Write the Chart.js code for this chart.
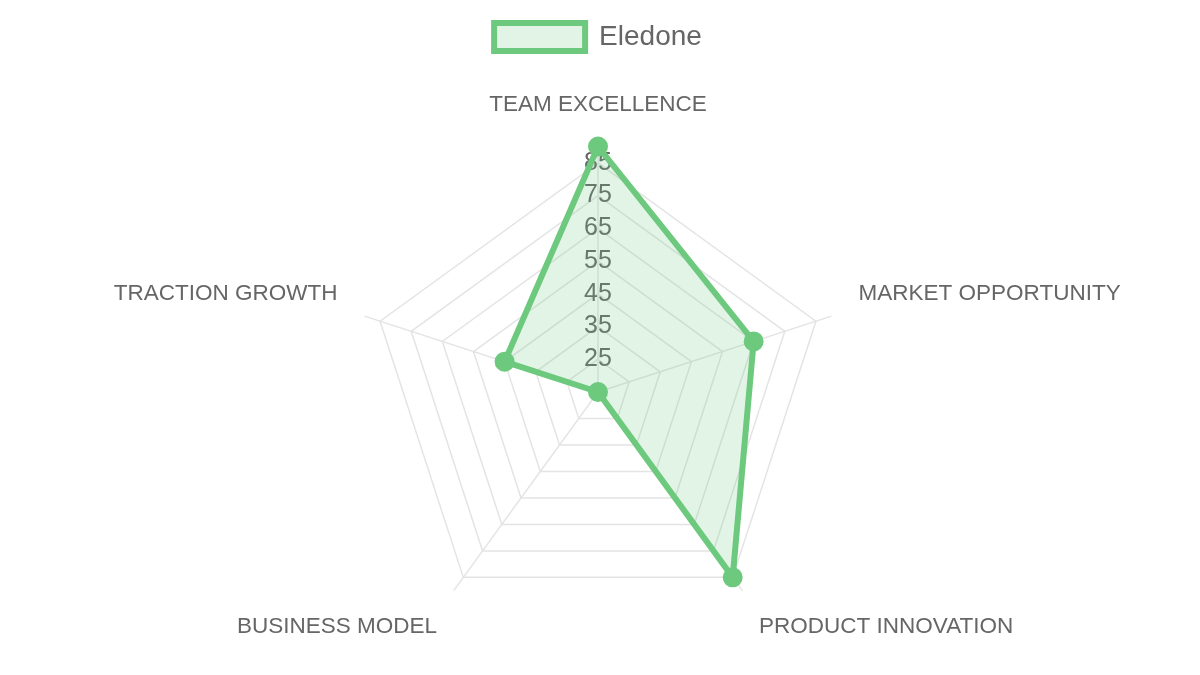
<!DOCTYPE html>
<html>
<head>
<meta charset="utf-8">
<script src="https://cdn.jsdelivr.net/npm/chart.js@4/dist/chart.umd.min.js"></script>
<style>
  html, body { margin: 0; padding: 0; background: #fff; }
  #wrap { width: 1200px; height: 675px; }
</style>
</head>
<body>
<div id="wrap"><canvas id="chart"></canvas></div>
<script>
const categories = ['TEAM EXCELLENCE', 'MARKET OPPORTUNITY', 'PRODUCT INNOVATION', 'BUSINESS MODEL', 'TRACTION GROWTH']
const seriesName = 'Eledone'
const seriesValues = [90, 65, 85, 15, 45]
const scaleMin = 15
const scaleMax = 90
const tickValues = [25, 35, 45, 55, 65, 75, 85]

const green = 'rgb(108, 201, 125)'
const greenFill = 'rgba(108, 201, 125, 0.2)'
const textColor = '#666'
const gridColor = '#e4e4e4'

// a bit more room under the legend
const legendMargin = {
    id: 'legendMargin',
    afterInit(chart) {
        const fit = chart.legend.fit
        chart.legend.fit = function () {
            fit.bind(chart.legend)()
            this.height += 10
        }
    }
}

const ctx = document.getElementById('chart').getContext('2d')
new Chart(ctx, {
    type: 'radar',
    data: {
        labels: categories,
        datasets: [{
            label: seriesName,
            data: seriesValues,
            borderColor: green,
            backgroundColor: greenFill,
            pointBackgroundColor: green,
            pointBorderColor: green,
            borderWidth: 6,
            pointRadius: 7,
            fill: true
        }]
    },
    plugins: [legendMargin],
    options: {
        responsive: true,
        maintainAspectRatio: false,
        animation: false,
        layout: { padding: { top: 7, bottom: 2, right: 4 } },
        plugins: {
            legend: {
                labels: {
                    color: textColor,
                    font: { size: 28 },
                    boxWidth: 91,
                    boxHeight: 28,
                    padding: 16
                }
            },
            tooltip: { enabled: false }
        },
        scales: {
            r: {
                min: scaleMin,
                max: scaleMax,
                // only the listed ticks get a ring and a label
                afterBuildTicks: scale => {
                    scale.ticks = [scaleMin].concat(tickValues).map(v => ({ value: v }))
                },
                grid: { color: gridColor, lineWidth: 1.5 },
                angleLines: { color: gridColor, lineWidth: 1.5 },
                ticks: {
                    color: textColor,
                    font: { size: 25 },
                    showLabelBackdrop: false
                },
                pointLabels: {
                    color: textColor,
                    font: { size: 22.5 },
                    padding: 14
                }
            }
        }
    }
})
</script>
</body>
</html>
